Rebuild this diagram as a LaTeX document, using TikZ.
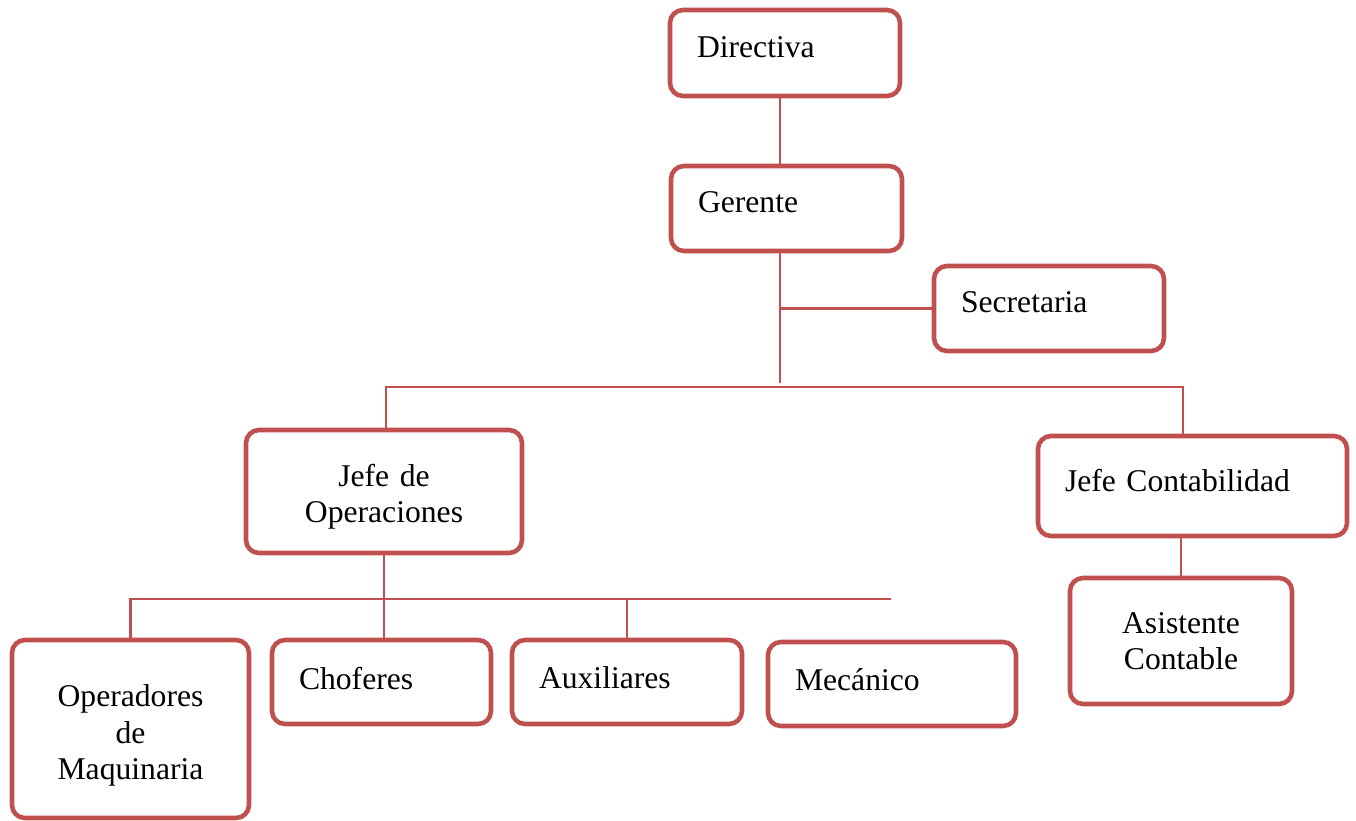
\documentclass[tikz,border=0pt]{standalone}
\usepackage{fontspec}
\setmainfont{Liberation Serif}
\usetikzlibrary{calc}
\definecolor{rojo}{HTML}{C0504D}

\begin{document}
\begin{tikzpicture}[
		base/.style={draw=rojo, line width=2.6pt, rounded corners=0.26cm, fill=white,
			font=\fontsize{18}{20.5}\selectfont},
		caja/.style={base, align=left, inner xsep=0.54cm, text depth=0.24cm},
		cajac/.style={base, align=center, inner xsep=0.1cm},
		linea/.style={draw=rojo, line width=1.6pt}]
		\useasboundingbox (0,0) rectangle (27.12,-16.42);
		%
		%cajas
		\node[caja, minimum width=4.6cm, minimum height=1.72cm, text width=3.52cm] (dir) at (15.70,-1.06) {Directiva};
		\node[caja, minimum width=4.62cm, minimum height=1.70cm, text width=3.54cm] (ger) at (15.73,-4.17) {Gerente};
		\node[caja, minimum width=4.6cm, minimum height=1.70cm, text width=3.52cm] (sec) at (20.98,-6.17) {Secretaria};
		\node[cajac, minimum width=5.52cm, minimum height=2.46cm, text width=5.2cm, text depth=0.66cm] (jop) at (7.68,-9.83) {Jefe de\\Operaciones};
		\node[caja, minimum width=6.18cm, minimum height=2.0cm, text width=5.1cm] (jco) at (23.85,-9.72) {Jefe Contabilidad};
		\node[cajac, minimum width=4.44cm, minimum height=2.52cm, text width=4.1cm] (asi) at (23.62,-12.82) {Asistente\\Contable};
		\node[cajac, minimum width=4.74cm, minimum height=3.56cm, text width=4.4cm, text depth=1.32cm] (ope) at (2.61,-14.58) {Operadores\\de\\Maquinaria};
		\node[caja, minimum width=4.38cm, minimum height=1.68cm, text width=3.3cm, text depth=0.16cm] (cho) at (7.63,-13.64) {Choferes};
		\node[caja, minimum width=4.6cm, minimum height=1.68cm, text width=3.52cm, text depth=0.16cm] (aux) at (12.54,-13.64) {Auxiliares};
		\node[caja, minimum width=4.96cm, minimum height=1.68cm, text width=3.88cm, text depth=0.2cm] (mec) at (17.84,-13.68) {Mecánico};
		%
		%lineas
		\coordinate (g1) at (15.60,-7.66);
		\coordinate (barL) at (7.72,-7.74);
		\coordinate (barR) at (23.66,-7.74);
		\coordinate (bar2L) at (2.62,-11.98);
		\coordinate (bar2R) at (17.82,-11.98);
		%
		\draw[linea] (dir.south -| g1) -- (ger.north -| g1);
		\draw[linea] (ger.south -| g1) -- (g1);
		\draw[linea] (g1 |- sec.west) -- (sec.west);
		\draw[linea] (jop.north -| barL) -- (barL) -- (barR) -- (jco.north -| barR);
		\draw[linea] (asi.north) -- (asi.north |- jco.south);
		\draw[linea] (jop.south) -- (jop.south |- cho.north);
		\draw[linea] (ope.north) -- (ope.north |- bar2L) -- (bar2R);
		\draw[linea] (aux.north) -- (aux.north |- bar2L);
		%
\end{tikzpicture}
\end{document}
